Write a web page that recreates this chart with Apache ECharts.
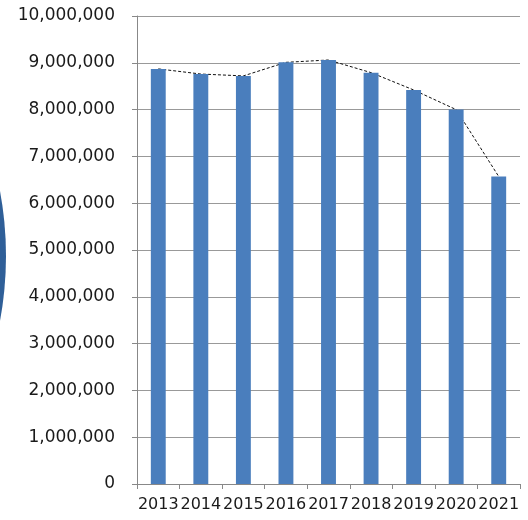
<!DOCTYPE html>
<html>
<head>
<meta charset="utf-8">
<script src="https://cdn.jsdelivr.net/npm/echarts@6/dist/echarts.min.js"></script>
<style>
html,body{margin:0;padding:0;background:#fff;}
#chart{width:528px;height:520px;}
</style>
</head>
<body>
<div id="chart"></div>
<script>
const categories = ['2013','2014','2015','2016','2017','2018','2019','2020','2021'];
const values = [8870000, 8760000, 8720000, 9010000, 9060000, 8790000, 8420000, 8000000, 6570000];
const yMin = 0, yMax = 10000000, yStep = 1000000;

const chart = echarts.init(document.getElementById('chart'), null, {renderer: 'canvas'});
const font = 'DejaVu Sans';
chart.setOption({
  animation: false,
  backgroundColor: '#ffffff',
  graphic: [{
    type: 'circle',
    shape: {cx: -349, cy: 256, r: 355},
    style: {fill: '#2f5f98'},
    silent: true,
    z: 0
  }],
  grid: {left: 137, right: 8, top: 16, bottom: 36, containLabel: false},
  xAxis: {
    type: 'category',
    data: categories,
    boundaryGap: true,
    axisLine: {show: true, lineStyle: {color: '#888888', width: 1}},
    axisTick: {show: true, inside: false, length: 5, alignWithLabel: false, lineStyle: {color: '#888888'}},
    axisLabel: {interval: 0, margin: 13, color: '#1a1a1a', fontFamily: font, fontSize: 16},
    splitLine: {show: false}
  },
  yAxis: {
    type: 'value',
    min: yMin, max: yMax, interval: yStep,
    axisLine: {show: true, lineStyle: {color: '#888888', width: 1}},
    axisTick: {show: true, inside: false, length: 5, lineStyle: {color: '#888888'}},
    axisLabel: {
      margin: 22, color: '#1a1a1a', fontFamily: font, fontSize: 17,
      formatter: v => v.toLocaleString('en-US')
    },
    splitLine: {show: true, lineStyle: {color: '#999999', width: 1}}
  },
  series: [
    {
      type: 'line',
      data: values,
      symbol: 'none',
      lineStyle: {color: '#111111', width: 1, type: [3, 2]},
      z: 1
    },
    {
      type: 'bar',
      data: values,
      barWidth: '35%',
      itemStyle: {color: '#4a7ebd'},
      z: 2
    }
  ]
});
</script>
</body>
</html>
